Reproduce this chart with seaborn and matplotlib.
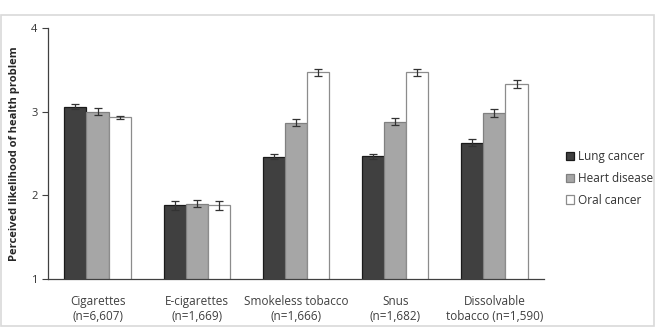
import numpy as np
import pandas as pd
import matplotlib
matplotlib.use('Agg')
import matplotlib.pyplot as plt
import seaborn as sns
from matplotlib.patches import Rectangle

categories = ['Cigarettes\n(n=6,607)', 'E-cigarettes\n(n=1,669)', 'Smokeless tobacco\n(n=1,666)',
              'Snus\n(n=1,682)', 'Dissolvable\ntobacco (n=1,590)']
series = ['Lung cancer', 'Heart disease', 'Oral cancer']
lung = [3.06, 1.88, 2.46, 2.47, 2.63]
heart = [3.00, 1.90, 2.87, 2.88, 2.98]
oral = [2.93, 1.88, 3.47, 3.47, 3.33]
lung_err = [0.03, 0.05, 0.03, 0.03, 0.04]
heart_err = [0.04, 0.04, 0.04, 0.04, 0.05]
oral_err = [0.02, 0.05, 0.04, 0.04, 0.05]

df = pd.DataFrame({
    'cat': categories * 3,
    'series': sum([[s] * 5 for s in series], []),
    'value': lung + heart + oral,
})
errs = [lung_err, heart_err, oral_err]

sns.set_style('white')
plt.rcParams['font.family'] = ['Open Sans', 'DejaVu Sans']

fig = plt.figure(figsize=(6.57, 3.28), dpi=100)
fig.patches.append(Rectangle((0.001, 0.005), 0.994, 0.95, transform=fig.transFigure,
                             fill=False, edgecolor='#d9d9d9', lw=1.2))
ax = fig.add_axes([0.073, 0.149, 0.755, 0.766])

palette = {'Lung cancer': '#404040', 'Heart disease': '#a6a6a6', 'Oral cancer': '#ffffff'}
sns.barplot(data=df, x='cat', y='value', hue='series', palette=palette, width=0.67, gap=0,
            errorbar=None, ax=ax, legend=False)

edges = ['#1a1a1a', '#808080', '#8c8c8c']
for cont, err, ec in zip(ax.containers, errs, edges):
    xs = []
    ys = []
    for bar in cont:
        bar.set_edgecolor(ec)
        bar.set_linewidth(0.9)
        xs.append(bar.get_x() + bar.get_width() / 2)
        ys.append(bar.get_height())
    ax.errorbar(xs, ys, yerr=err, fmt='none', ecolor='#333333', elinewidth=0.9, capsize=3, capthick=0.9)

ax.set_ylim(1, 4)
ax.set_yticks([1, 2, 3, 4])
ax.set_xlim(-0.5, 4.5)
ax.set_xlabel('')
ax.set_ylabel('Perceived likelihood of health problem', fontsize=8, fontweight='bold', labelpad=8)
sns.despine(ax=ax)
for s in ['left', 'bottom']:
    ax.spines[s].set_color('#404040')
    ax.spines[s].set_linewidth(0.9)
ax.tick_params(axis='y', left=True, length=4, width=0.8, color='#404040', labelsize=8, labelcolor='#333333')
ax.tick_params(axis='x', bottom=False, labelsize=8.5, labelcolor='#404040', pad=8)

handles = [Rectangle((0, 0), 1, 1, facecolor=palette[s], edgecolor=e, lw=0.9) for s, e in zip(series, edges)]
fig.legend(handles, series, loc='upper left', bbox_to_anchor=(0.845, 0.575), frameon=False,
           fontsize=8.5, handlelength=0.7, handleheight=0.7, handletextpad=0.3, labelspacing=0.75,
           labelcolor='#333333')

fig.savefig('out.png', dpi=100)
